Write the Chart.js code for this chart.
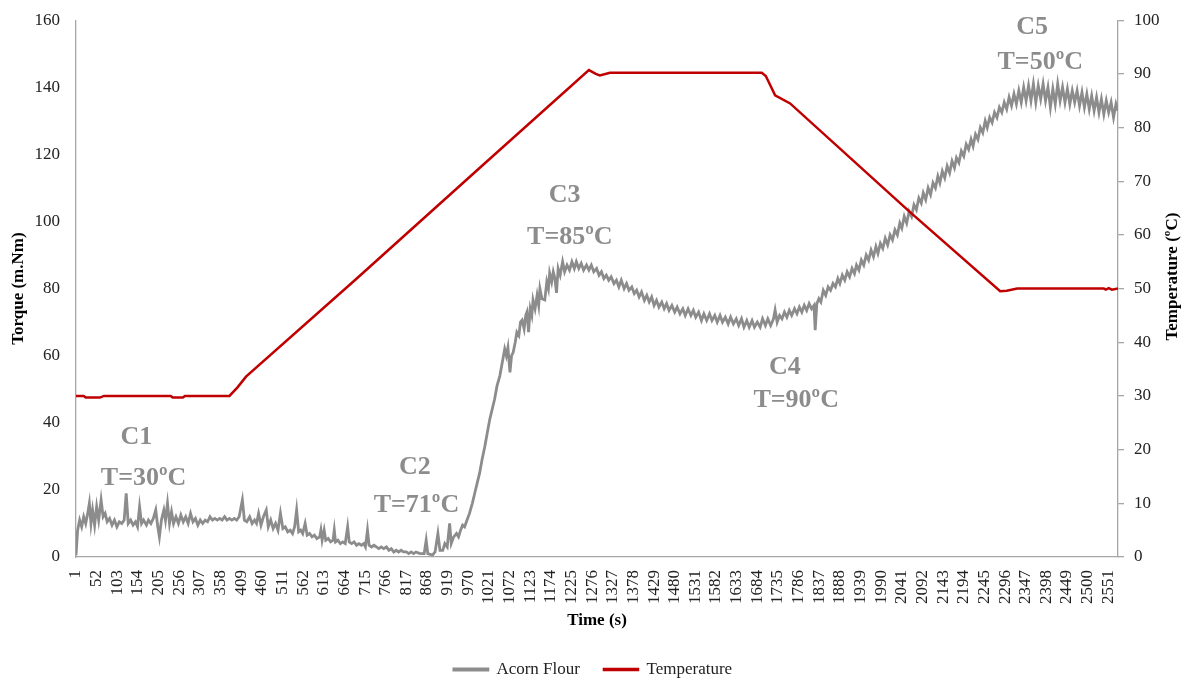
<!DOCTYPE html>
<html>
<head>
<meta charset="utf-8">
<script src="https://cdn.jsdelivr.net/npm/chart.js@4.4.1/dist/chart.umd.min.js"></script>
<style>
  html, body { margin: 0; padding: 0; background: #fff; }
</style>
</head>
<body>
<canvas id="chart" width="1186" height="678"></canvas>
<script>
// x axis tick labels (seconds)
const xTicks = [1, 52, 103, 154, 205, 256, 307, 358, 409, 460, 511, 562, 613, 664, 715, 766, 817, 868, 919, 970,
  1021, 1072, 1123, 1174, 1225, 1276, 1327, 1378, 1429, 1480, 1531, 1582, 1633, 1684, 1735, 1786, 1837, 1888, 1939, 1990,
  2041, 2092, 2143, 2194, 2245, 2296, 2347, 2398, 2449, 2500, 2551];

// Acorn flour torque (m.Nm)
const torqueTime = [
  1, 5, 10, 15, 20, 25, 30, 34, 38, 42, 47, 52, 57, 63, 68, 73, 78, 84, 90, 96, 102, 108, 114, 120, 125, 130, 136, 142, 148, 153,
  158, 163, 168, 175, 180, 186, 192, 198, 203, 207, 212, 218, 222, 227, 232, 237, 242, 248, 254, 260, 266, 272, 278, 284, 290, 296, 302, 308, 314, 320,
  326, 332, 338, 344, 350, 356, 362, 368, 374, 380, 386, 392, 398, 404,
  412, 417, 423, 430, 436, 442, 447, 452, 458, 464, 471, 476, 482, 488, 494, 500, 506, 512, 518, 524, 530, 536, 541, 546, 551, 556, 561, 567, 572, 578,
  584, 590, 596, 603, 606, 609, 614, 618, 624, 630, 636, 639, 642, 648, 654, 660, 666, 672, 676, 682, 688, 694, 700, 706, 712, 716, 721, 725, 731, 737,
  743, 749, 755, 761, 768, 774, 780, 786, 792, 798, 804, 810, 817, 823, 829, 835, 841, 849, 855, 861, 866, 870, 876, 882, 888, 895, 900, 907, 912, 918,
  924, 928, 934, 941, 946, 951, 956,
  961, 967, 973, 980, 986, 992, 998, 1004, 1011, 1017, 1023, 1029, 1035, 1041, 1048, 1054, 1060, 1064, 1068, 1073, 1077, 1081, 1086, 1090, 1095, 1099,
  1103, 1108, 1112, 1115, 1119, 1123, 1127, 1130, 1135, 1140, 1144, 1147, 1152, 1159, 1164, 1168, 1171, 1176, 1180, 1184, 1188, 1192, 1197,
  1203, 1208, 1214, 1220, 1226, 1232, 1237, 1243, 1249, 1255, 1262, 1268, 1274, 1280, 1287, 1293, 1299, 1305, 1311, 1317, 1323, 1330, 1336, 1342, 1348,
  1355, 1361, 1367, 1374, 1380, 1386, 1392, 1398, 1405, 1411, 1417, 1423, 1429, 1435, 1441, 1448, 1454, 1460, 1466, 1473, 1480, 1486, 1493, 1500, 1506,
  1513, 1520, 1526, 1532, 1539, 1546, 1552, 1559, 1566, 1572, 1579, 1585, 1592, 1598, 1605, 1612, 1618, 1625, 1632, 1638, 1645, 1651, 1658, 1664, 1671,
  1677, 1684, 1691, 1697, 1704, 1710, 1717, 1724, 1728, 1733, 1739, 1745, 1751, 1757, 1763, 1769, 1776, 1782, 1788, 1794, 1800, 1806, 1812, 1818, 1824,
  1827, 1831,
  1836, 1841, 1847, 1853, 1859, 1865, 1871, 1877, 1883, 1888, 1894, 1900, 1906, 1912, 1918, 1924, 1929, 1935, 1941, 1947, 1953, 1959, 1965, 1971, 1977,
  1982, 1988, 1994, 2000, 2006, 2012, 2018, 2024, 2030, 2036, 2041, 2047, 2053, 2059, 2065, 2071, 2077, 2083, 2089, 2094, 2100, 2106, 2112, 2118, 2124,
  2130, 2135, 2141, 2147, 2153, 2159, 2165, 2171, 2176, 2182, 2188, 2194, 2200, 2206, 2212, 2217, 2223, 2229, 2235, 2241, 2247, 2252, 2258, 2264, 2270,
  2276, 2282, 2288, 2294, 2300, 2306, 2312, 2318, 2324, 2330, 2336, 2342, 2348, 2354, 2360, 2366, 2372, 2378, 2384, 2390, 2396, 2402, 2408, 2414, 2420,
  2426, 2432, 2438, 2444, 2450, 2456, 2462, 2468, 2474, 2480, 2486, 2492, 2498, 2504, 2510, 2516, 2522, 2528, 2534, 2540, 2546, 2552, 2558, 2564, 2570,
  2575
];
const torqueValues = [
  0.5, 8, 11, 9, 12, 10, 13, 16, 10, 14, 9.5, 15, 11, 17, 12, 13, 10.5, 11.5, 9.5, 11, 9, 10.5, 10, 11, 19, 10, 11, 9.5, 10.5, 9,
  15, 10, 11, 9.5, 11, 10, 11.5, 14, 9, 6, 11, 14, 11, 16, 10, 13.5, 10, 12, 10, 12.5, 10.5, 12, 10, 13, 10.5, 11.5, 9.5, 11, 10, 11,
  10.5, 12, 11, 11.5, 11, 11.5, 11, 12, 11, 11.5, 11, 11.5, 11, 12,
  17, 11, 10.5, 12, 10, 11, 10, 13, 9.5, 12, 14, 9, 11, 8.5, 10, 8, 13, 8.5, 9, 7.5, 8, 7, 9, 14, 7.5, 8, 7, 10, 6.5, 7,
  6, 6.5, 5.5, 6, 8, 5, 8, 5, 5.5, 4.5, 5, 8, 4.5, 5, 4, 4.5, 4, 9, 4.5, 4, 4.5, 3.5, 4, 3.5, 4, 3, 8, 3.5, 3, 3.5,
  3, 2.5, 3, 2.5, 3, 2, 2.5, 1.5, 2, 1.5, 2, 1.5, 1.5, 1, 1.5, 1, 1.5, 1.1, 1, 1, 5, 1, 0.8, 0.6, 1.5, 7, 2, 2, 4, 3,
  10, 4, 6, 7, 6, 8, 9.5,
  9, 11, 13, 16, 19, 22, 25, 29, 33, 37, 41, 44, 47, 51, 54, 58, 62, 60, 62.5, 55, 60, 61, 64, 67, 66, 70,
  70.6, 68, 72, 73, 67, 74, 72, 76.6, 74, 78, 75, 80, 77, 76.6, 82, 80, 84.6, 82, 85, 83, 78.7, 86, 84,
  88, 85, 87, 85.5, 88, 86, 88, 86, 87.5, 85.5, 87, 85.5, 87, 85, 86, 84, 85, 83, 84, 82.5, 83.5, 81.5, 82.5, 80.5, 82.5,
  80, 81.5, 79.5, 80.5, 78.5, 79.5, 77.5, 79, 76.5, 78, 76, 77.5, 75, 76.5, 74.5, 76, 74, 75.5, 73.5, 75, 73, 74.5, 72.5, 74, 72,
  74, 72, 73.5, 71.5, 73, 70.5, 72.5, 70.5, 72.5, 70.5, 72, 70, 72, 70, 71.5, 69.5, 71.5, 69.5, 71, 69, 71, 68.5, 70.5, 68.5, 70.5,
  68.5, 70, 68.5, 71, 69, 71, 69, 71, 73.6, 70, 72, 71, 73, 71.5, 73.5, 72, 74, 72.5, 74.5, 73, 75, 73.5, 75.5, 74, 75,
  67.6, 75.5,
  77, 76, 79.5, 78, 80.5, 79.5, 81.5, 80.5, 83, 81.5, 84, 82.5, 85, 83.5, 86, 84.5, 87, 85.5, 88.5, 87, 90, 88.5, 91.5, 89.5, 92.5,
  90.5, 93.5, 92, 95, 93, 96, 94.5, 97.5, 96, 99.5, 98, 101.5, 99.5, 103, 101.5, 105, 103.5, 107, 105.5, 108.5, 106.5, 110, 108, 111.5, 110,
  113.5, 111.5, 115, 113, 116.5, 114.5, 118, 116, 119, 117.5, 121, 119.5, 123, 121.5, 124.5, 122.5, 126, 124.5, 128, 126.5, 130, 128, 131, 129.5, 132.5,
  131, 134, 132.5, 135.5, 133.5, 137, 134.5, 138, 135, 139, 135.5, 140, 136, 140.5, 136, 141, 135.5, 140.5, 136.5, 141, 136, 140, 134, 139.5, 135,
  141, 136, 140, 135.5, 139.5, 135, 139, 135.5, 139, 134.5, 138.5, 134, 138, 133.5, 137.5, 133, 137, 132.5, 136.5, 132, 136, 132.5, 135.5, 131, 135,
  133
];

// Temperature (ºC), right axis
const tempTime = [1, 20, 25, 60, 70, 235, 240, 265, 270, 380, 400, 421, 689, 1000, 1268, 1285, 1295, 1320, 1695, 1705, 1728, 1765,
  2062, 2284, 2300, 2326, 2540, 2545, 2552, 2560, 2575];
const tempValues = [30, 30, 29.7, 29.7, 30, 30, 29.7, 29.7, 30, 30, 31.6, 33.6, 51.5, 72.6, 90.7, 90.0, 89.7, 90.2, 90.2, 89.6, 86, 84.5,
  64.2, 49.5, 49.6, 50, 50, 49.8, 50.1, 49.8, 50];

// stage labels, anchored in data units (time, torque)
const stageText   = ["C1", "T=30ºC", "C2", "T=71ºC", "C3", "T=85ºC", "C4", "T=90ºC", "C5", "T=50ºC"];
const stageTime   = [150, 168, 838, 842, 1208, 1221, 1752, 1780, 2363, 2383];
const stageTorque = [35.8, 23.5, 26.8, 15.5, 107.9, 95.4, 56.6, 46.8, 157.9, 147.5];

const SERIF = '"Liberation Serif", "Times New Roman", serif';
const GRAY = "#8c8c8c";
const RED = "#c00000";
const AXIS = "#a6a6a6";

const stageLabels = {
  id: "stageLabels",
  afterDatasetsDraw(chart) {
    const { ctx, scales } = chart;
    ctx.save();
    ctx.fillStyle = GRAY;
    ctx.font = "bold 26px " + SERIF;
    ctx.textAlign = "center";
    ctx.textBaseline = "middle";
    stageText.forEach((txt, i) => {
      ctx.fillText(txt, scales.x.getPixelForValue(stageTime[i]), scales.y.getPixelForValue(stageTorque[i]));
    });
    ctx.restore();
  },
  afterDraw(chart) {
    // right axis title reads bottom-to-top like the original
    const { ctx, scales } = chart;
    const s = scales.y1;
    ctx.save();
    ctx.translate(s.right - 13, (s.top + s.bottom) / 2 - 12);
    ctx.rotate(-Math.PI / 2);
    ctx.fillStyle = "#000";
    ctx.font = "bold 17px " + SERIF;
    ctx.textAlign = "center";
    ctx.textBaseline = "middle";
    ctx.fillText("Temperature (ºC)", 0, 0);
    ctx.restore();
  }
};

new Chart(document.getElementById("chart"), {
  type: "line",
  data: {
    datasets: [
      {
        label: "Acorn Flour",
        data: torqueTime.map((t, i) => ({ x: t, y: torqueValues[i] })),
        borderColor: GRAY,
        backgroundColor: GRAY,
        borderWidth: 2.8,
        pointRadius: 0,
        tension: 0,
        yAxisID: "y",
        order: 1
      },
      {
        label: "Temperature",
        data: tempTime.map((t, i) => ({ x: t, y: tempValues[i] })),
        borderColor: RED,
        backgroundColor: RED,
        borderWidth: 2.5,
        pointRadius: 0,
        tension: 0,
        yAxisID: "y1",
        order: 0
      }
    ]
  },
  options: {
    responsive: false,
    animation: false,
    layout: { padding: { top: 20, left: 0, right: 0, bottom: 0 } },
    plugins: {
      tooltip: { enabled: false },
      legend: {
        position: "bottom",
        maxHeight: 41,
        labels: {
          font: { family: SERIF, size: 17 },
          color: "#222",
          boxWidth: 34,
          boxHeight: 1,
          padding: 24,
          sort: (a, b) => a.datasetIndex - b.datasetIndex
        }
      }
    },
    scales: {
      x: {
        type: "linear",
        min: 1,
        max: 2575,
        afterBuildTicks: (scale) => { scale.ticks = xTicks.map(v => ({ value: v })); },
        afterFit: (scale) => { scale.height = 80; },
        ticks: {
          autoSkip: false,
          minRotation: 90,
          maxRotation: 90,
          padding: 5,
          color: "#222",
          font: { family: SERIF, size: 17 },
          callback: (v) => String(v)
        },
        grid: { display: false, drawTicks: true, tickLength: 8 },
        border: { color: AXIS, width: 1.3 },
        title: {
          display: true,
          text: "Time (s)",
          color: "#000",
          font: { family: SERIF, size: 17, weight: "bold" },
          padding: { top: 4, bottom: 6 }
        }
      },
      y: {
        position: "left",
        min: 0,
        max: 160,
        afterFit: (scale) => { scale.width = 76; },
        ticks: {
          stepSize: 20,
          padding: 8,
          color: "#222",
          font: { family: SERIF, size: 17 }
        },
        grid: { display: false, drawTicks: true, tickLength: 8 },
        border: { color: AXIS, width: 1.3 },
        title: {
          display: true,
          text: "Torque (m.Nm)",
          color: "#000",
          font: { family: SERIF, size: 17, weight: "bold" },
          padding: { top: 8, bottom: 0 }
        }
      },
      y1: {
        position: "right",
        min: 0,
        max: 100,
        afterFit: (scale) => { scale.width = 68; },
        ticks: {
          stepSize: 10,
          padding: 10,
          color: "#222",
          font: { family: SERIF, size: 17 }
        },
        grid: { display: true, drawOnChartArea: false, drawTicks: true, tickLength: 6, color: AXIS, lineWidth: 1.3 },
        border: { color: AXIS, width: 1.3 }
      }
    }
  },
  plugins: [stageLabels]
});
</script>
</body>
</html>
